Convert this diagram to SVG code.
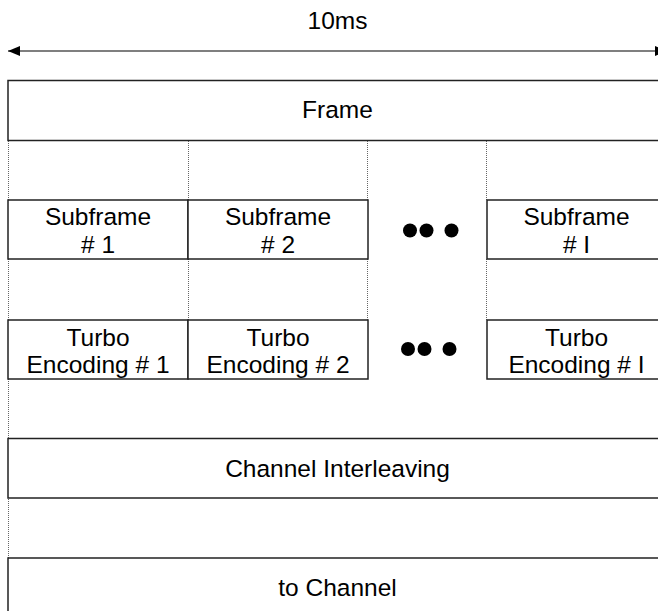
<svg xmlns="http://www.w3.org/2000/svg" width="658" height="611" viewBox="0 0 658 611">
<style>
.box{fill:#fff;stroke:#222;stroke-width:1.5}
.dot{stroke:#666;stroke-width:1;stroke-dasharray:1,1;fill:none}
.t{font-family:"Liberation Sans",Arial,sans-serif;font-size:24.5px;fill:#000;text-anchor:middle}
.arr{stroke:#555;stroke-width:1.6;fill:none}
</style>
<defs>
<marker id="ah" viewBox="0 0 12 10" refX="12" refY="5" markerWidth="12" markerHeight="10" markerUnits="userSpaceOnUse" orient="auto-start-reverse">
<path d="M0,0 L12,5 L0,10 Z" fill="#000"/>
</marker>
</defs>
<rect width="658" height="611" fill="#fff"/>
<g id="connectors">
<line class="arr" x1="8" y1="51" x2="667" y2="51" marker-start="url(#ah)" marker-end="url(#ah)"/>
<line class="dot" x1="8.5" y1="141" x2="8.5" y2="558"/>
<line class="dot" x1="188.5" y1="141" x2="188.5" y2="200"/>
<line class="dot" x1="188.5" y1="259" x2="188.5" y2="320"/>
<line class="dot" x1="367.5" y1="141" x2="367.5" y2="200"/>
<line class="dot" x1="367.5" y1="259" x2="367.5" y2="320"/>
<line class="dot" x1="486.5" y1="141" x2="486.5" y2="200"/>
<line class="dot" x1="486.5" y1="259" x2="486.5" y2="320"/>
</g>
<g id="label-10ms"><text class="t" x="337.5" y="29">10ms</text></g>
<g id="frame">
<rect class="box" x="8" y="80.5" width="659" height="60"/>
<text class="t" x="337.5" y="118">Frame</text>
</g>
<g id="subframe1">
<rect class="box" x="8" y="200" width="180" height="59"/>
<text class="t" x="98" y="225">Subframe</text>
<text class="t" x="98" y="253"># 1</text>
</g>
<g id="subframe2">
<rect class="box" x="188" y="200" width="180" height="59"/>
<text class="t" x="278" y="225">Subframe</text>
<text class="t" x="278" y="253"># 2</text>
</g>
<g id="dots1">
<circle cx="410" cy="230.5" r="7"/>
<circle cx="426.5" cy="230.5" r="7"/>
<circle cx="451.5" cy="230.5" r="7"/>
</g>
<g id="subframeI">
<rect class="box" x="487" y="200" width="180" height="59"/>
<text class="t" x="576.5" y="225">Subframe</text>
<text class="t" x="576.5" y="253"># I</text>
</g>
<g id="turbo1">
<rect class="box" x="8" y="320" width="180" height="59"/>
<text class="t" x="98" y="346">Turbo</text>
<text class="t" x="98" y="373">Encoding # 1</text>
</g>
<g id="turbo2">
<rect class="box" x="188" y="320" width="180" height="59"/>
<text class="t" x="278" y="346">Turbo</text>
<text class="t" x="278" y="373">Encoding # 2</text>
</g>
<g id="dots2">
<circle cx="408" cy="349" r="7"/>
<circle cx="424.5" cy="349" r="7"/>
<circle cx="449.5" cy="349" r="7"/>
</g>
<g id="turboI">
<rect class="box" x="487" y="320" width="180" height="59"/>
<text class="t" x="576.5" y="346">Turbo</text>
<text class="t" x="576.5" y="373">Encoding # I</text>
</g>
<g id="interleaving">
<rect class="box" x="8" y="438.5" width="659" height="59.5"/>
<text class="t" x="337.5" y="477">Channel Interleaving</text>
</g>
<g id="tochannel">
<rect class="box" x="8" y="558" width="659" height="60"/>
<text class="t" x="337.5" y="596">to Channel</text>
</g>
</svg>
